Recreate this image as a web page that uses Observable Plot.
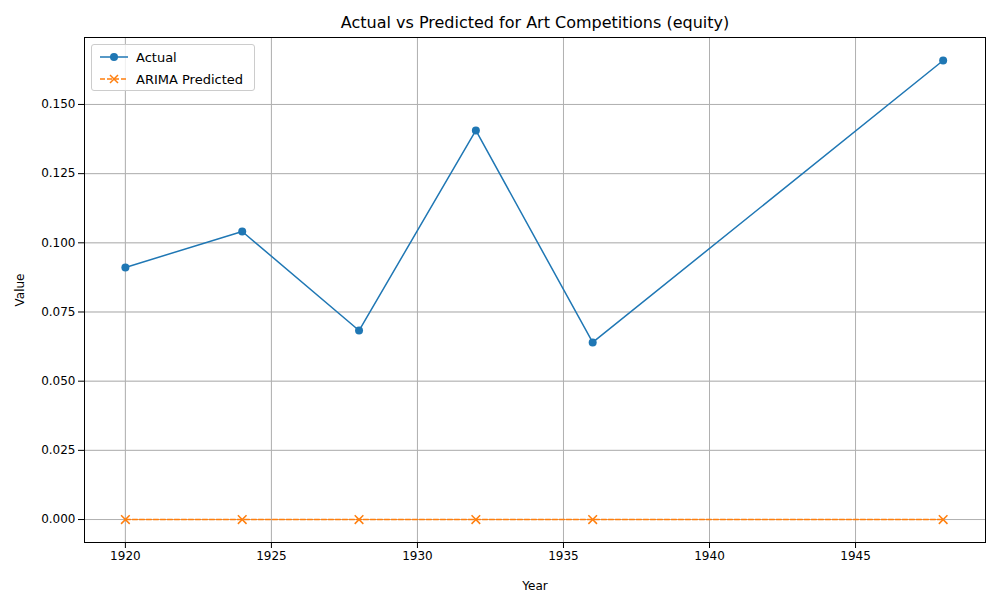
<!DOCTYPE html>
<html>
<head>
<meta charset="utf-8">
<script src="https://cdn.jsdelivr.net/npm/d3@7"></script>
<script src="https://cdn.jsdelivr.net/npm/@observablehq/plot@0.6"></script>
<style>
body { margin: 0; font-family: "DejaVu Sans", sans-serif; background: white; }
#wrap { position: relative; width: 1000px; height: 600px; }
#title { height: 30px; line-height: 46px; text-align: center; font-size: 16px; padding-left: 70px; }
#legend { position: absolute; left: 91px; top: 44px; width: 162px; height: 45px; border: 1px solid #ccc; border-radius: 3px; background: rgba(255,255,255,0.8); font-size: 13px; }
#legend div { display: flex; align-items: center; height: 20px; margin-top: 2px; }
#legend svg { margin: 0 8px 0 8px; }
</style>
</head>
<body>
<div id="wrap">
  <div id="title">Actual vs Predicted for Art Competitions (equity)</div>
  <div id="chart"></div>
  <div id="legend">
    <div><svg width="28" height="10"><line x1="0" y1="5" x2="28" y2="5" stroke="#1f77b4" stroke-width="1.5"/><circle cx="14" cy="5" r="4" fill="#1f77b4"/></svg>Actual</div>
    <div><svg width="28" height="10"><line x1="0" y1="5" x2="28" y2="5" stroke="#ff7f0e" stroke-width="1.5" stroke-dasharray="5,2"/><path d="M10,1L18,9M18,1L10,9" stroke="#ff7f0e" stroke-width="1.5"/></svg>ARIMA Predicted</div>
  </div>
</div>
<script>
const years = [1920, 1924, 1928, 1932, 1936, 1948];
const actual = [0.0911, 0.1041, 0.0683, 0.1406, 0.0640, 0.1659];
const predicted = [0, 0, 0, 0, 0, 0];

const actualData = years.map((y, i) => ({year: y, value: actual[i]}));
const predData = years.map((y, i) => ({year: y, value: predicted[i]}));

const chart = Plot.plot({
  width: 1000,
  height: 570,
  marginLeft: 84,
  marginRight: 15,
  marginTop: 7,
  marginBottom: 58,
  style: {fontFamily: "DejaVu Sans", fontSize: "12px", color: "black"},
  x: {domain: [1918.6, 1949.45], ticks: d3.range(1920, 1946, 5), tickFormat: "d", label: "Year", labelArrow: "none", labelAnchor: "center", labelOffset: 47, grid: true},
  y: {domain: [-0.0083, 0.1742], ticks: d3.range(0, 0.151, 0.025), tickFormat: ".3f", label: "Value", labelArrow: "none", labelAnchor: "center", labelOffset: 69, grid: true},
  marks: [
    Plot.gridX(d3.range(1920, 1946, 5), {stroke: "#b0b0b0", strokeOpacity: 1}),
    Plot.gridY(d3.range(0, 0.151, 0.025), {stroke: "#b0b0b0", strokeOpacity: 1}),
    Plot.frame({stroke: "black"}),
    Plot.line(actualData, {x: "year", y: "value", stroke: "#1f77b4", strokeWidth: 1.5}),
    Plot.dot(actualData, {x: "year", y: "value", fill: "#1f77b4", r: 4}),
    Plot.line(predData, {x: "year", y: "value", stroke: "#ff7f0e", strokeWidth: 1.5, strokeDasharray: "5,2"}),
    Plot.dot(predData, {x: "year", y: "value", stroke: "#ff7f0e", symbol: "times", r: 4, strokeWidth: 1.5})
  ]
});
d3.select('#chart').append(() => chart);
</script>
</body>
</html>
